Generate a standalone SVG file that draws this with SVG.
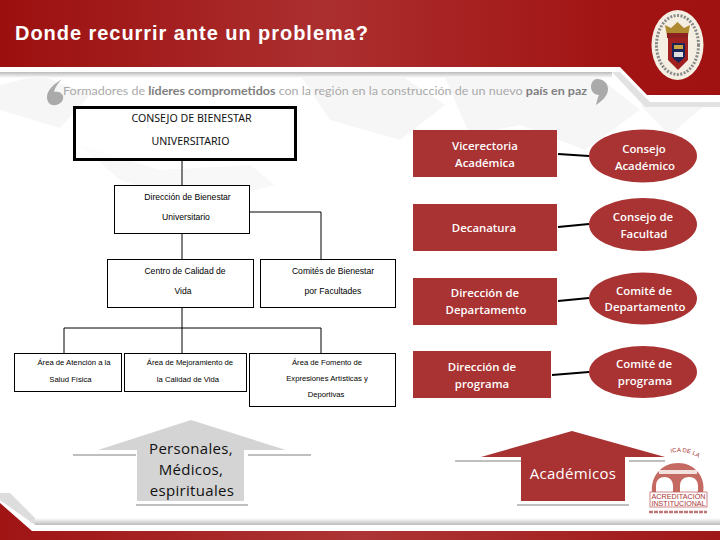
<svg xmlns="http://www.w3.org/2000/svg" width="720" height="540" viewBox="0 0 720 540">
<style>
text{font-family:"Liberation Sans",Arial,sans-serif;text-anchor:middle}
.c{font-family:"Open Sans","Noto Sans",sans-serif}
.b{fill:#fff;stroke:#000;stroke-width:1}
.l{fill:none;stroke:#000;stroke-width:1}
.r{fill:#a93232}
.w{fill:#fff;font-size:11.4px;font-weight:600}
.k{fill:#000;font-size:8.6px}
.s{fill:#000;font-size:7.7px}
.m{fill:#111;font-size:10.6px;font-family:"Noto Sans","Open Sans",sans-serif}
.h{stroke:#000;stroke-width:2;fill:none}
.g{stroke:#aaa;stroke-width:1.5;fill:none}
.f{fill:#f6f6f6}
.p{font-size:15px;letter-spacing:.3px}
</style>
<defs>
<linearGradient id="hd" x1="0" x2="1" y1="0" y2="0">
<stop offset="0" stop-color="#9c0f0f"/><stop offset=".45" stop-color="#ac2f2f"/><stop offset=".85" stop-color="#a21414"/><stop offset="1" stop-color="#a01212"/>
</linearGradient>
<linearGradient id="ft" x1="0" x2="1" y1="0" y2="0">
<stop offset="0" stop-color="#a01414"/><stop offset=".5" stop-color="#ad3535"/><stop offset="1" stop-color="#a01818"/>
</linearGradient>
<linearGradient id="sh" x1="0" x2="0" y1="0" y2="1"><stop offset="0" stop-color="#bbb"/><stop offset="1" stop-color="#fff"/></linearGradient>
<linearGradient id="sb" x1="0" x2="0" y1="0" y2="1"><stop offset="0" stop-color="#fff"/><stop offset="1" stop-color="#bbb"/></linearGradient>
<path id="arc" d="M671 453C682 450 694 453 704 462"/>
</defs>
<rect width="720" height="540" fill="#fff"/>
<g id="background">
<path class="f" d="M0 85L40 75L90 95L60 128L0 110Z"/>
<path class="f" d="M300 75H400L445 105L400 140L330 120Z"/>
<path class="f" d="M445 78H600L640 110L585 150L520 125L470 135Z"/>
<path class="f" d="M640 105H705L670 135Z"/>
<path class="f" d="M80 145L160 170L250 165L275 185L200 205L120 180Z" opacity=".8"/>
<rect x="0" y="72" width="612" height="6" fill="url(#sh)"/>
<path d="M612 72H620L650 102H720V107H645Z" fill="#e2e2e2"/>
</g>
<g id="header">
<path d="M0 0H720V95H647L620 67H0Z" fill="url(#hd)"/>
<text x="191.500" y="40" fill="#fff" font-weight="700" style="font-size:20px" textLength="353" lengthAdjust="spacing">Donde recurrir ante un problema?</text>
</g>
<g id="footer">
<rect x="35" y="518" width="685" height="7" fill="url(#sb)"/>
<path d="M0 493L10 493L35 518V525L0 500Z" fill="#ddd"/>
<path d="M0 503L32 531H720V540H0Z" fill="url(#ft)"/>
</g>
<g id="tagline">
<path d="M62 79C54 84 47 90 47 97C47 103 51 106 56 105C61 104 64 100 63 96C62 92 57 91 54 92C55 87 58 83 62 79Z" fill="#aaa"/>
<path d="M597 79C603 79 608 83 608 89C608 96 602 101 596 105C597 100 598 97 599 95C594 95 591 91 591 87C591 82 594 79 597 79Z" fill="#aaa"/>
<text x="325" y="95" textLength="524" lengthAdjust="spacingAndGlyphs" fill="#aaa" style="font-family:Lato,'Open Sans',sans-serif;font-size:11.5px">Formadores de <tspan font-weight="700" fill="#808080">líderes comprometidos</tspan> con la región en la construcción de un nuevo <tspan font-weight="700" fill="#808080">país en paz</tspan></text>
</g>
<g id="logo-universidad">
<ellipse cx="677.500" cy="45" rx="26" ry="35" fill="#f4efe2"/>
<ellipse cx="677.500" cy="45" rx="21" ry="29.500" fill="none" stroke="#888" stroke-width="3" stroke-dasharray="2 1.500"/>
<path d="M665 25L671 28L677.500 22L684 28L690 25L688 36H667Z" fill="#b08a30"/>
<rect x="667" y="33" width="21" height="5" fill="#8c2020"/>
<path d="M668 38H688V60L678 70L668 60Z" fill="#a02020"/>
<path d="M672 43H685V57L678.500 63L672 57Z" fill="#1a2458"/>
<rect x="674" y="45" width="9" height="4" fill="#c9a544"/>
<rect x="674" y="52" width="9" height="5" fill="#ddd"/>
</g>
<g id="connectors">
<path class="l" d="M182 161V185M182 233V259M250 212H321V259M182 307V353M64 353V328H321V353"/>
<path class="h" d="M558 154L589 156M558 227L589 224M558 301L589 298M552 375L589 372"/>
<path class="g" d="M73 455H136M248 455H311M136 505H248M455 461H521M629 461H665M517 505H629"/>
</g>
<g id="consejo-bienestar">
<rect x="74.500" y="107.500" width="221" height="52" fill="#fff" fill-opacity=".5" stroke="#000" stroke-width="3"/>
<text class="m" x="191.500" y="122">CONSEJO DE BIENESTAR</text>
<text class="m" x="190.500" y="145">UNIVERSITARIO</text>
</g>
<g id="direccion-bienestar">
<rect class="b" x="114.500" y="185.500" width="135" height="48"/>
<text class="k" x="187.500" y="200">Dirección de Bienestar</text>
<text class="k" x="186" y="220">Universitario</text>
</g>
<g id="centro-calidad">
<rect class="b" x="107.500" y="259.500" width="146" height="48"/>
<text class="k" x="185" y="274">Centro de Calidad de</text>
<text class="k" x="183" y="294">Vida</text>
</g>
<g id="comites-bienestar">
<rect class="b" x="260.500" y="259.500" width="135" height="48"/>
<text class="k" x="333" y="274">Comités de Bienestar</text>
<text class="k" x="333" y="294">por Facultades</text>
</g>
<g id="area-atencion">
<rect class="b" x="14.500" y="353.500" width="107" height="38"/>
<text class="s" x="74" y="365">Área de Atención a la</text>
<text class="s" x="70.500" y="382">Salud Física</text>
</g>
<g id="area-mejoramiento">
<rect class="b" x="124.500" y="353.500" width="122" height="38"/>
<text class="s" x="190" y="365">Área de Mejoramiento de</text>
<text class="s" x="188" y="382">la Calidad de Vida</text>
</g>
<g id="area-fomento">
<rect class="b" x="249.500" y="353.500" width="146" height="53"/>
<text class="s" x="327" y="365">Área de Fomento de</text>
<text class="s" x="327" y="381">Expresiones Artísticas y</text>
<text class="s" x="326" y="397">Deportivas</text>
</g>
<g id="vicerectoria">
<rect class="r" x="413" y="130" width="144" height="47"/>
<text class="w c" x="485" y="150">Vicerectoria</text>
<text class="w c" x="485" y="167">Académica</text>
</g>
<g id="decanatura">
<rect class="r" x="413" y="204" width="144" height="47"/>
<text class="w c" x="484" y="232">Decanatura</text>
</g>
<g id="direccion-departamento">
<rect class="r" x="413" y="278" width="144" height="47"/>
<text class="w c" x="485" y="297">Dirección de</text>
<text class="w c" x="486" y="314">Departamento</text>
</g>
<g id="direccion-programa">
<rect class="r" x="413" y="351" width="138" height="47"/>
<text class="w c" x="482" y="371">Dirección de</text>
<text class="w c" x="482" y="388">programa</text>
</g>
<g id="consejo-academico">
<ellipse class="r" cx="643" cy="156" rx="54" ry="26.500"/>
<text class="w c" x="644" y="153">Consejo</text>
<text class="w c" x="645" y="170">Académico</text>
</g>
<g id="consejo-facultad">
<ellipse class="r" cx="643" cy="224.500" rx="54" ry="26.500"/>
<text class="w c" x="643" y="221">Consejo de</text>
<text class="w c" x="644" y="238">Facultad</text>
</g>
<g id="comite-departamento">
<ellipse class="r" cx="643" cy="298.500" rx="54" ry="26"/>
<text class="w c" x="644" y="295">Comité de</text>
<text class="w c" x="645" y="311">Departamento</text>
</g>
<g id="comite-programa">
<ellipse class="r" cx="643" cy="372" rx="54" ry="26"/>
<text class="w c" x="644" y="368">Comité de</text>
<text class="w c" x="645" y="385">programa</text>
</g>
<g id="personales">
<path d="M191 420L98 450H137V501H244V450H286Z" fill="#d4d4d4"/>
<text class="c p" x="191" y="454" fill="#111">Personales,</text>
<text class="c p" x="191" y="475" fill="#111">Médicos,</text>
<text class="c p" x="192" y="496" fill="#111">espirituales</text>
</g>
<g id="logo-acreditacion">
<path d="M652 493C650 476 662 463 678 463C694 463 706 476 703 493Z" fill="#c46a62"/>
<path d="M656 493V486C656 480 660 477 664.500 477C669 477 673 480 673 486V493ZM680 493V486C680 480 684 477 689 477C694 477 698 480 698 486V493Z" fill="#fff"/>
<rect x="659" y="470" width="38" height="4" fill="#fff" opacity=".8"/>
<rect x="650" y="492" width="57" height="15" fill="#fff" stroke="#b55" stroke-width=".7"/>
<text x="678.500" y="499" fill="#a33" style="font-size:7px" textLength="54" lengthAdjust="spacingAndGlyphs">ACREDITACIÓN</text>
<text x="678.500" y="506" fill="#a33" style="font-size:7px" textLength="54" lengthAdjust="spacingAndGlyphs">INSTITUCIONAL</text>
<text fill="#a33" style="font-size:6px;text-anchor:start"><textPath href="#arc">ICA DE LA</textPath></text>
<path d="M649 512H707" stroke="#b77" stroke-width="2.500" stroke-dasharray="4 1"/>
</g>
<g id="academicos">
<path class="r" d="M572 431L481 457H521V501H625V457H665Z"/>
<text class="c p" x="573" y="479" fill="#fff">Académicos</text>
</g>
</svg>
